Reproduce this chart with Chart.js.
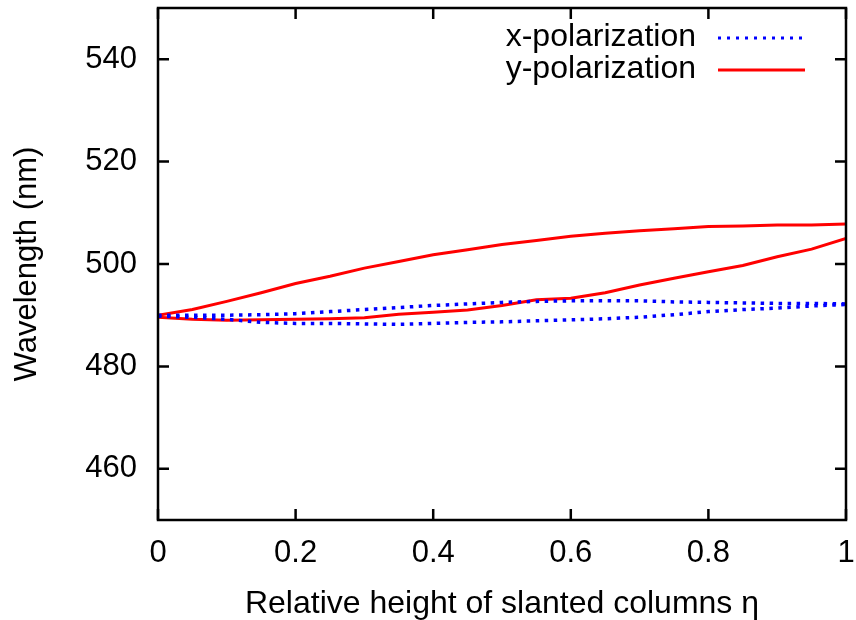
<!DOCTYPE html>
<html>
<head>
<meta charset="utf-8">
<script src="https://cdn.jsdelivr.net/npm/chart.js@4/dist/chart.umd.min.js"></script>
<style>
  html, body { margin: 0; padding: 0; background: #fff; }
  #wrap { width: 856px; height: 620px; }
</style>
</head>
<body>
<div id="wrap"><canvas id="waveChart" width="856" height="620"></canvas></div>
<script>
// relative height of slanted columns
var eta = [0, 0.05, 0.1, 0.15, 0.2, 0.25, 0.3, 0.35, 0.4, 0.45, 0.5,
           0.55, 0.6, 0.65, 0.7, 0.75, 0.8, 0.85, 0.9, 0.95, 1];

// x-polarization, two branches
var xPolUpper = [490.0, 490.0, 490.0, 490.1, 490.3, 490.7, 491.1, 491.5, 491.9, 492.2, 492.5,
                 492.7, 492.8, 492.8, 492.8, 492.6, 492.5, 492.4, 492.3, 492.3, 492.2];
var xPolLower = [489.8, 489.6, 489.2, 488.6, 488.4, 488.4, 488.3, 488.2, 488.4, 488.6, 488.7,
                 488.9, 489.1, 489.3, 489.6, 490.1, 490.7, 491.1, 491.4, 491.8, 492.1];

// y-polarization, two branches
var yPolUpper = [490.0, 491.1, 492.7, 494.4, 496.2, 497.6, 499.2, 500.5, 501.8, 502.8, 503.8,
                 504.6, 505.4, 506.0, 506.5, 506.9, 507.3, 507.4, 507.6, 507.6, 507.8];
var yPolLower = [489.6, 489.2, 489.0, 489.1, 489.2, 489.3, 489.5, 490.2, 490.6, 491.0, 491.9,
                 493.0, 493.3, 494.4, 495.9, 497.2, 498.5, 499.7, 501.4, 502.9, 505.0];

var xTicks = [0, 0.2, 0.4, 0.6, 0.8, 1];
var yTicks = [460, 480, 500, 520, 540];

var legendLabels = ['x-polarization', 'y-polarization'];

var FONT = '"Liberation Sans", Arial, sans-serif';
var FSIZE = 31;
var BLUE = '#0000ff';
var RED = '#ff0000';

function pts(ys) {
    return eta.map(function(x, i) { return { x: x, y: ys[i] }; });
}

// box frame with inward ticks on all four sides, gnuplot style
var framePlugin = {
    id: 'frame',
    afterDraw: function(chart) {
        var ctx = chart.ctx;
        var a = chart.chartArea;
        var xs = chart.scales.x, ys = chart.scales.y;
        var len = 11;
        ctx.save();
        ctx.strokeStyle = '#000';
        ctx.lineWidth = 2.5;
        ctx.beginPath();
        xTicks.forEach(function(v) {
            var px = xs.getPixelForValue(v);
            ctx.moveTo(px, a.bottom); ctx.lineTo(px, a.bottom - len);
            ctx.moveTo(px, a.top); ctx.lineTo(px, a.top + len);
        });
        yTicks.forEach(function(v) {
            var py = ys.getPixelForValue(v);
            ctx.moveTo(a.left, py); ctx.lineTo(a.left + len, py);
            ctx.moveTo(a.right, py); ctx.lineTo(a.right - len, py);
        });
        ctx.stroke();
        ctx.strokeRect(a.left, a.top, a.right - a.left, a.bottom - a.top);

        // legend inside the top right corner
        ctx.font = '32px ' + FONT;
        ctx.fillStyle = '#000';
        ctx.textAlign = 'right';
        ctx.textBaseline = 'middle';
        var rows = [
            { text: legendLabels[0], color: BLUE, dash: [3, 6], y: 37 },
            { text: legendLabels[1], color: RED, dash: [], y: 69 }
        ];
        rows.forEach(function(r) {
            ctx.fillText(r.text, 696, r.y);
            ctx.beginPath();
            ctx.strokeStyle = r.color;
            ctx.lineWidth = r.dash.length ? 3 : 3;
            ctx.setLineDash(r.dash);
            ctx.moveTo(718, r.y + 1);
            ctx.lineTo(805, r.y + 1);
            ctx.stroke();
        });
        ctx.restore();
    }
};

function lineSet(label, ys, color, dotted) {
    return {
        label: label,
        data: pts(ys),
        borderColor: color,
        backgroundColor: color,
        borderWidth: dotted ? 3.5 : 3,
        borderDash: dotted ? [3.5, 5.5] : [],
        pointRadius: 0,
        tension: 0,
        fill: false
    };
}

function noPad(scale) {
    scale.paddingTop = 0;
    scale.paddingBottom = 0;
    scale.paddingLeft = 0;
    scale.paddingRight = 0;
}

document.addEventListener('DOMContentLoaded', function() {
    var ctx = document.getElementById('waveChart').getContext('2d');

    new Chart(ctx, {
        type: 'line',
        data: {
            datasets: [
                lineSet('x-polarization', xPolUpper, BLUE, true),
                lineSet('x-polarization lower', xPolLower, BLUE, true),
                lineSet('y-polarization', yPolUpper, RED, false),
                lineSet('y-polarization lower', yPolLower, RED, false)
            ]
        },
        plugins: [framePlugin],
        options: {
            responsive: false,
            animation: false,
            layout: { padding: { top: 8, right: 10, left: 0, bottom: 0 } },
            plugins: {
                legend: { display: false },
                tooltip: { enabled: false }
            },
            scales: {
                x: {
                    type: 'linear',
                    min: 0,
                    max: 1,
                    afterFit: function(scale) { scale.height = 100; noPad(scale); },
                    afterBuildTicks: function(scale) {
                        scale.ticks = xTicks.map(function(v) { return { value: v }; });
                    },
                    ticks: {
                        color: '#000',
                        font: { family: FONT, size: FSIZE },
                        padding: 15,
                        maxRotation: 0,
                        callback: function(v) { return String(v); }
                    },
                    grid: { display: false, drawTicks: false },
                    border: { display: false },
                    title: {
                        display: true,
                        text: 'Relative height of slanted columns η',
                        color: '#000',
                        font: { family: FONT, size: 32 },
                        padding: { top: 0, bottom: -3 }
                    }
                },
                y: {
                    min: 450,
                    max: 550,
                    afterFit: function(scale) { scale.width = 158; noPad(scale); },
                    afterBuildTicks: function(scale) {
                        scale.ticks = yTicks.map(function(v) { return { value: v }; });
                    },
                    ticks: {
                        color: '#000',
                        font: { family: FONT, size: FSIZE },
                        padding: 21
                    },
                    grid: { display: false, drawTicks: false },
                    border: { display: false },
                    title: {
                        display: true,
                        text: 'Wavelength (nm)',
                        color: '#000',
                        font: { family: FONT, size: FSIZE },
                        padding: { top: 9, bottom: 0 }
                    }
                }
            }
        }
    });
});
</script>
</body>
</html>
